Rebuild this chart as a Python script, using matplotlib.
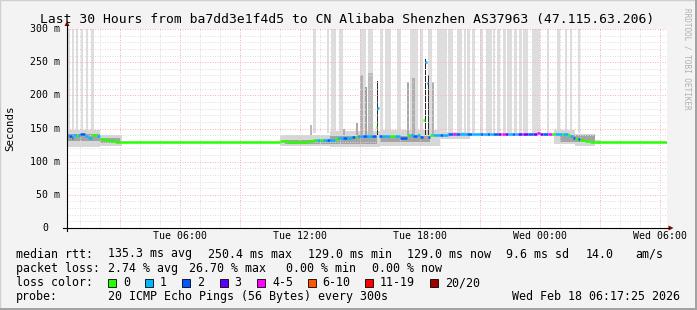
import matplotlib
matplotlib.use("Agg")
import matplotlib.pyplot as plt
from matplotlib.patches import Rectangle, Polygon
from matplotlib.lines import Line2D

# ---------------- data (time in hours since Tue 00:00, values in ms) ----------------
title = "Last 30 Hours from ba7dd3e1f4d5 to CN Alibaba Shenzhen AS37963 (47.115.63.206)"
x_tick_hours = [6, 12, 18, 24, 30]
x_tick_labels = ["Tue 06:00", "Tue 12:00", "Tue 18:00", "Wed 00:00", "Wed 06:00"]
y_tick_values = [0, 50, 100, 150, 200, 250, 300]
y_tick_labels = ["0", "50 m", "100 m", "150 m", "200 m", "250 m", "300 m"]
t_start, t_end = 0.35, 30.35

# median rtt segments: start time, median (ms), lost pings (of 20)
med_t = [0.35, 0.43, 0.60, 0.65, 0.80, 0.90, 1.00, 1.25, 1.40, 1.60, 1.85, 2.00, 2.25, 2.50, 2.75, 3.03,
         11.00, 11.35, 11.60, 11.85, 12.35, 12.65, 12.85, 13.00, 13.15, 13.35, 13.50, 13.75, 13.90, 14.15,
         14.35, 14.60, 14.75, 14.85, 14.95, 15.00, 15.15, 15.35, 15.60, 15.78, 15.85, 15.93, 16.10, 16.50,
         16.75, 17.00, 17.35, 17.50, 17.65, 17.85, 18.00, 18.13, 18.25, 18.33, 18.40, 18.50, 18.65, 19.00,
         19.15, 19.40, 19.65, 19.80, 20.00, 20.35, 20.60, 21.00, 21.15, 21.35, 21.50, 21.65, 21.90, 22.05,
         22.12, 22.25, 22.40, 22.60, 22.75, 22.90, 23.10, 23.15, 23.40, 23.65, 23.85, 24.00, 24.15, 24.40,
         24.60, 24.75, 25.10, 25.15, 25.40, 25.50, 25.65, 25.75, 25.90, 26.00, 26.25, 26.50, 26.75]
med_ms = [140, 138, 136, 140, 139, 140, 141, 138, 136, 140, 139, 134, 132.5, 131, 130, 129,
          131, 129.5, 129, 130, 131, 132.5, 133, 132.5, 133, 132, 132, 134.5, 135, 136,
          136, 136.5, 137, 138, 138, 138, 139, 139, 139, 152, 181, 138, 139, 139,
          139, 136, 140, 140, 139, 140, 137, 163, 250.4, 218, 137, 140, 140, 140,
          140, 141, 141, 141, 141, 141, 141, 141, 141, 141, 141, 141, 141, 141,
          141, 141, 141, 141, 141, 142, 142, 142, 141, 142, 142.5, 142, 141, 142,
          141, 141, 141, 141, 140, 138, 136, 134, 134, 132.5, 131, 130, 129]
med_loss = [1, 2, 2, 1, 0, 1, 2, 1, 1, 0, 1, 0, 0, 0, 0, 0,
            0, 0, 0, 0, 0, 0, 1, 0, 1, 2, 1, 0, 1, 2,
            1, 2, 0, 1, 4, 1, 2, 1, 2, 0, 1, 2, 1, 0,
            1, 2, 0, 1, 2, 1, 2, 0, 1, 2, 2, 0, 1, 2,
            1, 2, 4, 2, 1, 2, 1, 2, 1, 2, 1, 2, 3, 6,
            4, 3, 1, 2, 1, 3, 4, 3, 2, 3, 4, 3, 2, 5,
            0, 1, 0, 1, 0, 1, 2, 0, 2, 0, 0, 0, 0]

# smoke: broad haze around the median
haze_t0 = [0.35, 2.00, 11.00, 13.50, 16.00, 19.00, 24.70, 25.75, 26.75]
haze_t1 = [2.00, 3.10, 13.50, 16.00, 19.00, 20.50, 25.75, 26.75, 27.00]
haze_lo = [122, 124, 123, 122, 123, 134, 126, 124, 127]
haze_hi = [147, 140, 140, 146, 147, 145, 147, 142, 133]
# smoke: darker core
core_t0 = [0.35, 2.00, 11.25, 13.50, 16.00, 25.00]
core_t1 = [2.00, 3.00, 13.50, 15.85, 18.50, 26.75]
core_lo = [131, 128, 127, 127, 129, 129]
core_hi = [142, 135, 133, 139, 139, 140]
# smoke: pings far above the median, reaching past the top of the graph
tall_t0 = [0.35, 0.60, 0.80, 1.05, 1.30, 1.55, 12.65, 13.35, 13.55, 13.95, 15.00, 15.40, 16.00, 16.25,
           16.85, 17.50, 18.00, 18.40, 18.85, 19.40, 19.85, 20.20, 20.35, 20.60, 21.00, 21.30, 21.65,
           21.85, 22.15, 22.35, 22.70, 22.95, 23.15, 23.60, 24.35, 24.85, 25.25, 25.50, 25.90]
tall_t1 = [0.50, 0.70, 0.90, 1.15, 1.40, 1.70, 12.80, 13.45, 13.80, 14.15, 15.30, 15.65, 16.15, 16.55,
           17.05, 17.90, 18.15, 18.60, 19.35, 19.65, 20.10, 20.30, 20.50, 20.75, 21.15, 21.60, 21.75,
           22.00, 22.30, 22.60, 22.85, 23.10, 23.40, 24.00, 24.45, 25.00, 25.35, 25.60, 26.00]
# smoke: partial spikes (start, end, top ms, shade)
spike_t0 = [12.50, 14.15, 14.80, 15.00, 15.25, 15.40, 15.85, 17.35, 17.60, 18.25, 18.38, 18.60]
spike_t1 = [12.60, 14.25, 14.90, 15.15, 15.35, 15.65, 15.92, 17.45, 17.75, 18.31, 18.45, 18.70]
spike_top = [155, 150, 158, 231, 213, 234, 222, 220, 226, 255, 231, 220]
spike_shade = ["#b8b8b8", "#b0b0b0", "#a8a8a8", "#b0b0b0", "#a0a0a0", "#bcbcbc",
               "#333333", "#a8a8a8", "#b0b0b0", "#222222", "#333333", "#b0b0b0"]

loss_labels = ["0", "1", "2", "3", "4-5", "6-10", "11-19", "20/20"]
loss_colors = ["#26ff00", "#00b8ff", "#0059ff", "#5e00ff", "#ff00ff", "#ff5500", "#ff0000", "#a00000"]
loss_upper = [0, 1, 2, 3, 5, 10, 19, 20]

legend_rows = [
    ("median rtt:", [("135.3 ms avg", 107.5), ("250.4 ms max", 207.5), ("129.0 ms min", 307.5),
                     ("129.0 ms now", 407.5), ("9.6 ms sd", 506.5), ("14.0", 586), ("am/s", 635.5)]),
    ("packet loss:", [("2.74 % avg", 107.5), ("26.70 % max", 189), ("0.00 % min", 286.5),
                      ("0.00 % now", 372)]),
]
probe_text = "20 ICMP Echo Pings (56 Bytes) every 300s"
stamp_text = "Wed Feb 18 06:17:25 2026"

# ---------------- drawing ----------------
W, H = 697, 310
MONO = "DejaVu Sans Mono"
fig = plt.figure(figsize=(W / 100, H / 100), dpi=100)
fig.patch.set_facecolor("#f3f3f3")


def fx(px):
    return px / W


def fy(py):
    return 1 - py / H


ax = fig.add_axes([fx(67), fy(228), 600 / W, 199 / H])
ax.set_xlim(t_start, t_end)
ax.set_ylim(0, 300)
ax.set_facecolor("white")
for s in ax.spines.values():
    s.set_visible(False)
ax.set_xticks([])
ax.set_yticks([])

# smoke
ax.bar(tall_t0, [300 - 143] * len(tall_t0), width=[b - a for a, b in zip(tall_t0, tall_t1)],
       bottom=143, align="edge", color="#dddddd", linewidth=0, zorder=1)
ax.bar(haze_t0, [h - l for l, h in zip(haze_lo, haze_hi)], width=[b - a for a, b in zip(haze_t0, haze_t1)],
       bottom=haze_lo, align="edge", color="#d6d6d6", linewidth=0, zorder=1.2)
ax.bar(core_t0, [h - l for l, h in zip(core_lo, core_hi)], width=[b - a for a, b in zip(core_t0, core_t1)],
       bottom=core_lo, align="edge", color="#a4a4a4", linewidth=0, zorder=1.3)
ax.bar(spike_t0, [t - 140 for t in spike_top], width=[b - a for a, b in zip(spike_t0, spike_t1)],
       bottom=140, align="edge", color=spike_shade, linewidth=0, zorder=1.4)

# grid (dotted)
for h in range(1, 31):
    major = h % 3 == 0
    ax.axvline(h, color="#f4b4b4" if major else "#dedede", lw=0.72,
               ls=(0, (1, 1.5)), zorder=2)
for v in range(10, 301, 10):
    major = v % 50 == 0
    ax.axhline(v, color="#f4b4b4" if major else "#dedede", lw=0.72,
               ls=(0, (1, 1.5)), zorder=2)


def loss_color(n):
    for up, c in zip(loss_upper, loss_colors):
        if n <= up:
            return c
    return loss_colors[-1]


med_t1 = med_t[1:] + [t_end]
ax.hlines(med_ms, med_t, med_t1, colors=[loss_color(n) for n in med_loss], lw=1.8, zorder=4)

# axis tick labels
for h, lab in zip(x_tick_hours, x_tick_labels):
    ax.text(h, -4.5, lab, ha="center", va="top", fontsize=7.1, family=MONO,
            transform=ax.transData, clip_on=False)
ytr = ax.get_yaxis_transform()
for v, lab in zip(y_tick_values, y_tick_labels):
    xr = (60.5 - 67) / 600 if v > 0 else (48.8 - 67) / 600
    ax.text(xr, v, lab, ha="right", va="center", fontsize=7.1, family=MONO,
            transform=ytr, clip_on=False)

# axis lines with arrows
fig.add_artist(Line2D([fx(67), fx(67)], [fy(231), fy(25)], color="black", lw=0.8))
fig.add_artist(Line2D([fx(63), fx(669)], [fy(228), fy(228)], color="black", lw=0.8))
fig.add_artist(Polygon([(fx(64.5), fy(26)), (fx(69.5), fy(26)), (fx(67), fy(21))],
                       closed=True, color="#800000", lw=0))
fig.add_artist(Polygon([(fx(668.5), fy(225.5)), (fx(668.5), fy(230.5)), (fx(673.5), fy(228))],
                       closed=True, color="#800000", lw=0))

# titles
fig.text(fx(347), fy(19), title, ha="center", va="center", fontsize=9.4, family=MONO)
fig.text(fx(10), fy(128), "Seconds", ha="center", va="center", rotation=90, fontsize=7.8, family=MONO)
fig.text(fx(687.5), fy(8), "RRDTOOL / TOBI OETIKER", ha="center", va="top", rotation=-90,
         fontsize=5.5, family=MONO, color="#b0b0b0")

# legend
row_y = [254, 268.5, 282.5, 296.5]
LF = 8.4
for (head, items), yy in zip(legend_rows, row_y):
    fig.text(fx(15.5), fy(yy), head, ha="left", va="center", fontsize=LF, family=MONO)
    for txt, xx in items:
        fig.text(fx(xx), fy(yy), txt, ha="left", va="center", fontsize=LF, family=MONO)

fig.text(fx(15.5), fy(row_y[2]), "loss color:", ha="left", va="center", fontsize=LF, family=MONO)
box_x = [108, 145, 182, 219.5, 257, 307.5, 365, 430]
for bx, lab, col in zip(box_x, loss_labels, loss_colors):
    fig.add_artist(Rectangle((fx(bx), fy(row_y[2] + 4)), 8 / W, 8 / H, facecolor=col,
                             edgecolor="black", lw=0.6, transform=fig.transFigure))
    fig.text(fx(bx + 15), fy(row_y[2]), lab, ha="left", va="center", fontsize=LF, family=MONO)

fig.text(fx(15.5), fy(row_y[3]), "probe:", ha="left", va="center", fontsize=LF, family=MONO)
fig.text(fx(107.5), fy(row_y[3]), probe_text, ha="left", va="center", fontsize=LF, family=MONO)
fig.text(fx(680), fy(row_y[3]), stamp_text, ha="right", va="center", fontsize=LF, family=MONO)

# frame shading
fig.add_artist(Rectangle((0, 0), 1, 1, fill=False, edgecolor="#cfcfcf", lw=1.0,
                         transform=fig.transFigure))
fig.add_artist(Rectangle((fx(694.5), 0), 2.5 / W, 1, facecolor="#a3a3a3", lw=0,
                         transform=fig.transFigure))
fig.add_artist(Rectangle((0, 0), 1, 2.5 / H, facecolor="#a3a3a3", lw=0,
                         transform=fig.transFigure))

fig.savefig("out.png", dpi=100, facecolor=fig.get_facecolor())
